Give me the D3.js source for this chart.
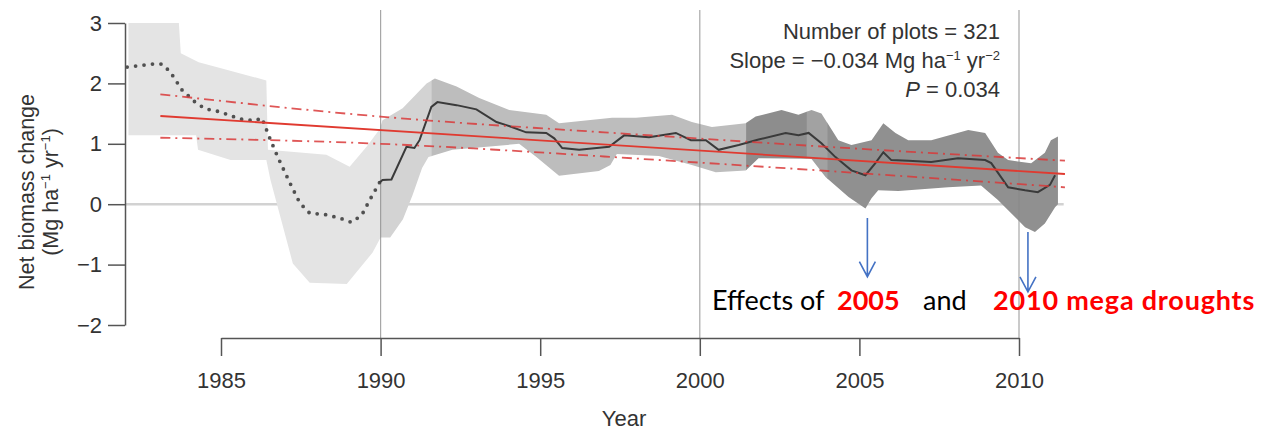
<!DOCTYPE html>
<html>
<head>
<meta charset="utf-8">
<script src="https://cdn.jsdelivr.net/npm/d3@7"></script>
<style>
  body { margin: 0; background: #fff; }
  svg { display: block; }
</style>
</head>
<body>
<div id="chart"></div>
<script>
// values
var meanYears = [1982.06, 1982.84, 1983.16, 1983.41, 1983.78, 1984.19, 1984.5, 1984.97, 1985.59, 1986.06,
  1986.28, 1986.53, 1986.78, 1987.16, 1987.47, 1987.78, 1988.25, 1988.72, 1989.09, 1989.41,
  1989.66, 1989.97, 1990.06, 1990.34, 1990.81, 1991.06, 1991.22, 1991.59, 1991.78, 1992.38,
  1993.0, 1993.63, 1993.94, 1994.56, 1995.19, 1995.44, 1995.69, 1996.22, 1997.16, 1997.63,
  1998.41, 1999.25, 1999.72, 2000.19, 2000.59, 2001.22, 2001.84, 2002.69, 2003.09, 2003.41,
  2003.81, 2004.25, 2004.75, 2005.19, 2005.5, 2005.75, 2006.0, 2006.53, 2007.25, 2008.09,
  2008.94, 2009.13, 2009.66, 2010.19, 2010.59, 2010.97, 2011.13];
var meanVals = [2.27, 2.32, 2.32, 2.19, 1.89, 1.69, 1.58, 1.53, 1.41, 1.38,
  1.43, 1.09, 0.78, 0.35, 0.02, -0.15, -0.17, -0.23, -0.3, -0.18,
  0.07, 0.36, 0.40, 0.41, 0.95, 0.93, 1.06, 1.61, 1.69, 1.64,
  1.57, 1.36, 1.31, 1.19, 1.18, 1.09, 0.93, 0.9, 0.95, 1.14,
  1.11, 1.18, 1.06, 1.06, 0.9, 0.98, 1.07, 1.18, 1.14, 1.18,
  1.01, 0.78, 0.56, 0.48, 0.68, 0.86, 0.73, 0.72, 0.7, 0.76,
  0.73, 0.68, 0.28, 0.23, 0.2, 0.32, 0.48];
var dottedUntil = 1989.97;

var upperYears = [1982.1, 1983.68, 1983.74, 1984.3, 1985.0, 1986.42, 1986.47, 1988.3, 1989.03, 1989.56,
  1989.97, 1990.06, 1990.69, 1991.44, 1991.7, 1992.38, 1993.09, 1994.03, 1995.19, 1995.59,
  1997.25, 1998.0, 1999.13, 1999.75, 2000.38, 2001.44, 2001.75, 2002.56, 2003.09, 2003.5,
  2003.81, 2004.34, 2004.75, 2005.38, 2005.75, 2006.13, 2006.53, 2007.25, 2008.41, 2008.94,
  2009.34, 2009.66, 2010.38, 2010.81, 2011.0, 2011.22];
var upperVals = [3.0, 3.0, 2.5, 2.35, 2.25, 2.05, 0.9, 0.82, 0.62, 0.95,
  1.24, 1.39, 1.59, 2.0, 2.08, 1.95, 1.76, 1.56, 1.48, 1.34,
  1.43, 1.43, 1.48, 1.36, 1.28, 1.34, 1.45, 1.56, 1.48, 1.56,
  1.5, 1.06, 0.98, 1.06, 1.34, 1.18, 1.06, 1.06, 1.23, 1.18,
  0.85, 0.73, 0.68, 0.85, 1.06, 1.12];

var lowerYears = [1982.1, 1984.22, 1984.28, 1985.3, 1986.42, 1986.55, 1987.25, 1987.78, 1988.94, 1989.75,
  1990.0, 1990.3, 1990.7, 1991.0, 1991.3, 1991.5, 1992.25, 1994.34, 1994.88, 1995.59,
  1996.84, 1997.2, 1997.4, 1998.72, 1999.75, 2000.5, 2001.44, 2001.84, 2003.5, 2003.94,
  2004.66, 2005.19, 2005.38, 2005.59, 2006.22, 2007.78, 2008.81, 2009.34, 2009.66, 2010.19,
  2010.5, 2010.81, 2011.13, 2011.22];
var lowerVals = [1.14, 1.14, 0.9, 0.73, 0.73, 0.4, -0.98, -1.3, -1.32, -0.8,
  -0.55, -0.55, -0.25, 0.15, 0.6, 0.78, 0.9, 1.0, 0.78, 0.47,
  0.55, 0.65, 0.83, 0.8, 0.65, 0.53, 0.56, 0.76, 0.75, 0.45,
  0.12, -0.07, 0.1, 0.23, 0.22, 0.28, 0.31, 0.07, -0.1, -0.38,
  -0.46, -0.32, -0.05, 0.0];

// shading of the band (number of plots)
var shadeStart = [1982.0, 1990.0, 1991.6, 2001.45, 2003.35, 2004.0];
var shadeEnd = [1990.0, 1991.6, 2001.45, 2003.35, 2004.0, 2011.5];
var shadeColor = ["#e4e4e4", "#d3d3d3", "#bdbdbd", "#8d8d8d", "#a2a2a2", "#909090"];

var trendYears = [1983.1, 2011.44];
var trendVals = [1.46, 0.50];
var ciYears = [1983.1, 1990, 1997, 2004, 2011.44];
var ciUpper = [1.82, 1.45, 1.19, 0.95, 0.72];
var ciLower = [1.10, 1.0, 0.79, 0.55, 0.28];

var xTicks = [1985, 1990, 1995, 2000, 2005, 2010];
var yTicks = [-2, -1, 0, 1, 2, 3];
var gridYears = [1990, 2000, 2010];

var arrowYears = [2005.25, 2010.28];
var arrowTop = [-0.23, -0.46];
var arrowTip = [-1.2, -1.45];

var width = 1261, height = 430;

var svg = d3.select("#chart").append("svg")
  .attr("width", width)
  .attr("height", height);

var x = d3.scaleLinear().domain([1985, 2010]).range([221, 1019]);
var y = d3.scaleLinear().domain([-2, 3]).range([325, 23]);

var font = "'Liberation Sans', Arial, Helvetica, sans-serif";

// zero line
svg.append("line")
  .attr("x1", x(1982)).attr("x2", x(2011.4))
  .attr("y1", y(0)).attr("y2", y(0))
  .attr("stroke", "#d2d2d2").attr("stroke-width", 2.5);

// band outline = upper edge then lower edge backwards
var bandPts = upperYears.map(function(d, i) { return [d, upperVals[i]]; });
var lowPts = lowerYears.map(function(d, i) { return [d, lowerVals[i]]; }).reverse();
bandPts = bandPts.concat(lowPts);

var bandLine = d3.line()
  .x(function(d) { return x(d[0]); })
  .y(function(d) { return y(d[1]); });

var defs = svg.append("defs");
shadeStart.forEach(function(s, i) {
  defs.append("clipPath").attr("id", "shade" + i)
    .append("rect")
    .attr("x", x(s)).attr("width", x(shadeEnd[i]) - x(s) + 0.5)
    .attr("y", 0).attr("height", height);
  svg.append("path")
    .attr("d", bandLine(bandPts) + "Z")
    .attr("fill", shadeColor[i])
    .attr("clip-path", "url(#shade" + i + ")");
});

// vertical grid lines
svg.selectAll(".grid")
  .data(gridYears)
  .enter().append("line")
  .attr("class", "grid")
  .attr("x1", function(d) { return x(d); })
  .attr("x2", function(d) { return x(d); })
  .attr("y1", 10).attr("y2", 338)
  .attr("stroke", "#8a8a8a").attr("stroke-opacity", 0.75).attr("stroke-width", 1.2);

// mean line
var meanPts = meanYears.map(function(d, i) { return [d, meanVals[i]]; });
var line = d3.line()
  .x(function(d) { return x(d[0]); })
  .y(function(d) { return y(d[1]); });

svg.append("path")
  .attr("d", line(meanPts.filter(function(d) { return d[0] <= dottedUntil; })))
  .attr("fill", "none")
  .attr("stroke", "#505050")
  .attr("stroke-width", 3.8)
  .attr("stroke-linecap", "round")
  .attr("stroke-dasharray", "0,8.5");

svg.append("path")
  .attr("d", line(meanPts.filter(function(d) { return d[0] >= dottedUntil; })))
  .attr("fill", "none")
  .attr("stroke", "#3a3a3a")
  .attr("stroke-width", 2);

// regression and confidence lines
var curved = d3.line()
  .x(function(d) { return x(d[0]); })
  .y(function(d) { return y(d[1]); })
  .curve(d3.curveNatural);

[ciUpper, ciLower].forEach(function(vals) {
  svg.append("path")
    .attr("d", curved(ciYears.map(function(d, i) { return [d, vals[i]]; })))
    .attr("fill", "none")
    .attr("stroke", "#d93a3a")
    .attr("stroke-opacity", 0.85)
    .attr("stroke-width", 1.8)
    .attr("stroke-dasharray", "10,5,2,5");
});

svg.append("path")
  .attr("d", line(trendYears.map(function(d, i) { return [d, trendVals[i]]; })))
  .attr("fill", "none")
  .attr("stroke", "#e03a30")
  .attr("stroke-width", 1.8);

// axes
var yAxis = svg.append("g")
  .attr("transform", "translate(125,0)")
  .call(d3.axisLeft(y).tickValues(yTicks).tickFormat(d3.format("d"))
    .tickSize(17).tickSizeOuter(0).tickPadding(6));

var xAxis = svg.append("g")
  .attr("transform", "translate(0,338)")
  .call(d3.axisBottom(x).tickValues(xTicks).tickFormat(d3.format("d"))
    .tickSize(18).tickSizeOuter(0).tickPadding(16));

[yAxis, xAxis].forEach(function(a) {
  a.selectAll("path, line").attr("stroke", "#555").attr("stroke-width", 1.5);
  a.selectAll("text").attr("fill", "#333").attr("font-family", font).attr("font-size", 22);
});

svg.append("text")
  .attr("x", 624).attr("y", 426)
  .attr("text-anchor", "middle")
  .attr("fill", "#333").attr("font-family", font).attr("font-size", 22)
  .text("Year");

// y label
var yl = svg.append("text")
  .attr("transform", "translate(34,192) rotate(-90)")
  .attr("text-anchor", "middle")
  .attr("fill", "#333").attr("font-family", font).attr("font-size", 21.5);
yl.append("tspan").attr("x", 0).attr("y", 0).text("Net biomass change");
var yl2 = yl.append("tspan").attr("x", 0).attr("y", 24);
yl2.append("tspan").text("(Mg ha");
yl2.append("tspan").attr("dy", -8).attr("font-size", 13).text("\u22121");
yl2.append("tspan").attr("dy", 8).text(" yr");
yl2.append("tspan").attr("dy", -8).attr("font-size", 13).text("\u22121");
yl2.append("tspan").attr("dy", 8).text(")");

// stats box
var stats = svg.append("g")
  .attr("fill", "#333").attr("font-family", font).attr("font-size", 22)
  .attr("text-anchor", "end");
stats.append("text").attr("x", 1000).attr("y", 39).text("Number of plots = 321");
var sl = stats.append("text").attr("x", 1000).attr("y", 68);
sl.append("tspan").text("Slope = \u22120.034 Mg ha");
sl.append("tspan").attr("dy", -8).attr("font-size", 13).text("\u22121");
sl.append("tspan").attr("dy", 8).text(" yr");
sl.append("tspan").attr("dy", -8).attr("font-size", 13).text("\u22122");
sl.append("tspan").attr("dy", 8).text("");
var pl = stats.append("text").attr("x", 1000).attr("y", 97);
pl.append("tspan").attr("font-style", "italic").text("P");
pl.append("tspan").text(" = 0.034");

// drought arrows
arrowYears.forEach(function(yr, i) {
  var ax = x(yr), top = y(arrowTop[i]), tip = y(arrowTip[i]);
  svg.append("path")
    .attr("d", "M" + ax + "," + top + "L" + ax + "," + tip +
      "M" + (ax - 8) + "," + (tip - 15) + "L" + ax + "," + tip + "L" + (ax + 8) + "," + (tip - 15))
    .attr("fill", "none")
    .attr("stroke", "#4472c4")
    .attr("stroke-width", 1.6);
});

// annotation
var note = svg.append("g").attr("font-family", "Lato, 'Open Sans', sans-serif").attr("font-size", 27);
note.append("text").attr("x", 712).attr("y", 310).attr("fill", "#000").text("Effects of");
note.append("text").attr("x", 837).attr("y", 310).attr("fill", "#ff0000").attr("font-weight", "bold").text("2005");
note.append("text").attr("x", 923).attr("y", 310).attr("fill", "#000").text("and");
note.append("text").attr("x", 993).attr("y", 310).attr("fill", "#ff0000").attr("font-weight", "bold")
  .attr("letter-spacing", 0.8).text("2010 mega droughts");
</script>
</body>
</html>
